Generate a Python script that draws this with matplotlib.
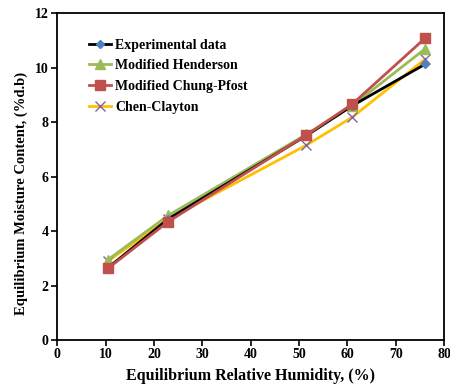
import matplotlib
matplotlib.use("Agg")
import matplotlib.pyplot as plt

# equilibrium relative humidity (%)
erh = [10.5, 23.0, 51.5, 61.0, 76.0]

# equilibrium moisture content (% d.b)
experimental = [2.65, 4.45, 7.50, 8.60, 10.12]
henderson = [2.95, 4.58, 7.55, 8.60, 10.68]
chung_pfost = [2.63, 4.35, 7.52, 8.66, 11.07]
chen_clayton = [2.90, 4.45, 7.15, 8.18, 10.30]

plt.rcParams['font.family'] = ['Liberation Serif', 'DejaVu Serif']
plt.rcParams['font.weight'] = 'bold'

fig = plt.figure(figsize=(4.5, 3.86), dpi=100)
ax = fig.add_axes([0.127, 0.119, 0.86, 0.847])

ax.plot(erh, experimental, color='black', lw=2, marker='D', ms=4.5,
        mfc='#4F81BD', mec='#4F81BD', label='Experimental data', zorder=5)
ax.plot(erh, henderson, color='#9BBB59', lw=2, marker='^', ms=7,
        mfc='#9BBB59', mec='#9BBB59', label='Modified Henderson', zorder=4)
ax.plot(erh, chung_pfost, color='#C0504D', lw=2, marker='s', ms=7,
        mfc='#C0504D', mec='#C0504D', label='Modified Chung-Pfost', zorder=6)
ax.plot(erh, chen_clayton, color='#FFC000', lw=2, marker='x', ms=7, mew=1,
        mec='#8064A2', label='Chen-Clayton', zorder=3)

ax.set_xlim(0, 80)
ax.set_ylim(0, 12)
ax.set_xticks(range(0, 81, 10))
ax.set_yticks(range(0, 13, 2))
ax.tick_params(direction='out', length=4, width=1.2, labelsize=10, pad=2)
for lab in ax.get_xticklabels() + ax.get_yticklabels():
    lab.set_fontweight('bold')
for s in ax.spines.values():
    s.set_linewidth(1.3)

ax.set_xlabel('Equilibrium Relative Humidity, (%)', fontsize=11.5,
              fontweight='bold', labelpad=5)
ax.set_ylabel('Equilibrium Moisture Content, (%d.b)', fontsize=10.5,
              fontweight='bold')
ax.yaxis.set_label_coords(-0.075, 0.45)

leg = ax.legend(loc='upper left', bbox_to_anchor=(0.05, 0.96), frameon=False,
                handlelength=1.6, handletextpad=0.3,
                labelspacing=0.55, prop={'weight': 'bold', 'size': 10})

fig.savefig('out.png', dpi=100)
plt.close()
